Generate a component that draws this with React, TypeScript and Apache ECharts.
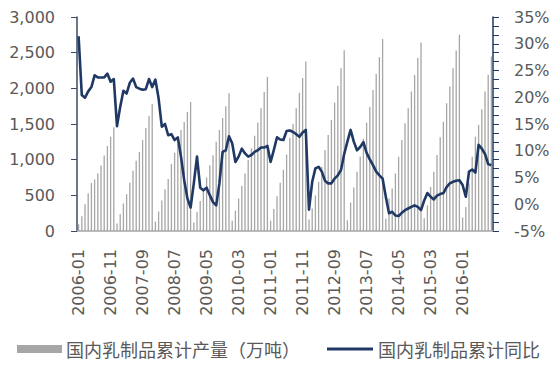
import React, { useEffect, useRef } from "react";
import * as echarts from "echarts";

// Month categories 2006-01 .. 2016-10
const years = [2006, 2007, 2008, 2009, 2010, 2011, 2012, 2013, 2014, 2015, 2016];
const monthsIn2016 = 10;

// 国内乳制品累计产量（万吨） by year (Jan..Dec)
const prod2006 = [94, 207, 375, 526, 675, 723, 807, 919, 1060, 1191, 1322, 1454];
const prod2007 = [104, 235, 385, 516, 675, 844, 984, 1107, 1275, 1444, 1613, 1781];
const prod2008 = [132, 273, 427, 584, 728, 938, 1097, 1238, 1416, 1528, 1669, 1810];
const prod2009 = [120, 265, 420, 590, 750, 920, 1062, 1250, 1416, 1585, 1750, 1930];
const prod2010 = [145, 285, 455, 630, 807, 1000, 1160, 1335, 1520, 1720, 1950, 2159];
const prod2011 = [145, 310, 488, 675, 858, 1073, 1303, 1500, 1721, 1937, 2145, 2376];
const prod2012 = [160, 315, 497, 689, 900, 1134, 1346, 1557, 1800, 2035, 2283, 2535];
const prod2013 = [150, 400, 610, 830, 1045, 1294, 1519, 1740, 1978, 2203, 2436, 2691];
const prod2014 = [170, 455, 596, 807, 1041, 1275, 1510, 1721, 1955, 2189, 2424, 2643];
const prod2015 = [180, 361, 619, 830, 1064, 1313, 1533, 1791, 2025, 2283, 2531, 2752];
const prod2016 = [190, 338, 666, 1041, 1322, 1486, 1707, 1955, 2189, 2447];

// 国内乳制品累计同比 (%)
const yoy2006 = [31.4, 20.4, 19.9, 21.1, 21.9, 24.1, 23.7, 23.7, 23.7, 24.4, 22.9, 23.4];
const yoy2007 = [14.6, 18.2, 21.2, 20.7, 22.7, 23.5, 21.9, 21.6, 21.4, 21.5, 23.4, 21.9];
const yoy2008 = [23.3, 19.8, 14.5, 15.0, 12.9, 13.1, 12.0, 12.5, 8.9, 4.5, 1.1, -0.6];
const yoy2009 = [3.9, 8.9, 3.1, 2.6, 3.1, 1.7, 0.4, -0.2, 3.9, 9.8, 10.1, 12.7];
const yoy2010 = [11.4, 7.9, 8.9, 10.4, 9.5, 8.9, 9.2, 9.8, 10.1, 10.6, 10.6, 10.9];
const yoy2011 = [7.9, 10.1, 12.5, 12.1, 12.0, 13.7, 13.8, 13.5, 13.1, 12.6, 13.4, 13.9];
const yoy2012 = [-1.0, 4.2, 6.7, 7.0, 6.1, 4.4, 3.9, 3.9, 4.8, 5.4, 6.4, 9.4];
const yoy2013 = [11.7, 13.9, 11.7, 10.1, 10.7, 11.6, 9.6, 8.4, 7.3, 6.1, 5.4, 4.8];
const yoy2014 = [1.4, -1.7, -1.4, -2.1, -2.2, -1.6, -1.1, -0.8, -0.5, -0.2, -0.5, -1.1];
const yoy2015 = [0.7, 2.1, 1.4, 0.9, 1.6, 1.9, 2.1, 3.2, 3.9, 4.2, 4.4, 4.5];
const yoy2016 = [3.6, 1.4, 6.1, 6.5, 5.9, 11.1, 10.4, 9.4, 7.5, 7.3];

const leftTicks = { min: 0, max: 3000, interval: 500 };
const rightTicks = { min: -5, max: 35, interval: 5 };

const barName = "国内乳制品累计产量（万吨）";
const lineName = "国内乳制品累计同比";

const categories: string[] = [];
years.forEach((y) => {
  const n = y === 2016 ? monthsIn2016 : 12;
  for (let m = 1; m <= n; m++) categories.push(`${y}-${m < 10 ? "0" + m : m}`);
});

const production = [
  ...prod2006, ...prod2007, ...prod2008, ...prod2009, ...prod2010, ...prod2011,
  ...prod2012, ...prod2013, ...prod2014, ...prod2015, ...prod2016,
];
const yoy = [
  ...yoy2006, ...yoy2007, ...yoy2008, ...yoy2009, ...yoy2010, ...yoy2011,
  ...yoy2012, ...yoy2013, ...yoy2014, ...yoy2015, ...yoy2016,
];

const TEXT = "#595959";
const FONT = "DejaVu Sans";
const CJK = "Noto Sans CJK SC";
const BAR = "#A6A6A6";
const LINE = "#1F3864";

export default function App() {
  const ref = useRef<HTMLDivElement>(null);
  useEffect(() => {
    if (!ref.current) return;
    const chart = echarts.init(ref.current, undefined, { renderer: "svg" });
    chart.setOption({
      animation: false,
      backgroundColor: "#ffffff",
      grid: { left: 77, right: 64, top: 17, bottom: 136, containLabel: false },
      graphic: [
        { type: "rect", shape: { x: 17, y: 345, width: 45, height: 8 }, style: { fill: BAR } },
        {
          type: "text",
          x: 66,
          y: 349,
          style: { text: barName, fill: TEXT, font: `18px "${CJK}"`, verticalAlign: "middle" },
        },
        {
          type: "line",
          shape: { x1: 327, y1: 349, x2: 373, y2: 349 },
          style: { stroke: LINE, lineWidth: 3 },
        },
        {
          type: "text",
          x: 378,
          y: 349,
          style: { text: lineName, fill: TEXT, font: `18px "${CJK}"`, verticalAlign: "middle" },
        },
      ],
      xAxis: {
        type: "category",
        data: categories,
        boundaryGap: true,
        axisLine: { lineStyle: { color: "#A6A6A6", width: 1.5 } },
        axisTick: { interval: 9, length: 6, lineStyle: { color: "#7F7F7F", width: 1.5 } },
        axisLabel: {
          interval: 9,
          rotate: 90,
          margin: 18,
          color: TEXT,
          fontSize: 16,
          fontFamily: FONT,
        },
        splitLine: { show: false },
      },
      yAxis: [
        {
          type: "value",
          min: leftTicks.min,
          max: leftTicks.max,
          interval: leftTicks.interval,
          axisLine: { show: true, lineStyle: { color: "#3B4A66", width: 1.5 } },
          axisTick: { show: true, length: 6, lineStyle: { color: "#3B4A66" } },
          axisLabel: {
            margin: 22,
            color: TEXT,
            fontSize: 16,
            fontFamily: FONT,
            formatter: (v: number) => v.toLocaleString("en-US"),
          },
          splitLine: { show: false },
        },
        {
          type: "value",
          min: rightTicks.min,
          max: rightTicks.max,
          interval: rightTicks.interval,
          axisLine: { show: true, lineStyle: { color: LINE, width: 1.5 } },
          axisTick: { show: true, length: 6, lineStyle: { color: LINE } },
          minorTick: { show: true, splitNumber: 3, length: 6, lineStyle: { color: LINE } },
          axisLabel: {
            margin: 21,
            color: TEXT,
            fontSize: 16,
            fontFamily: FONT,
            formatter: "{value}%",
          },
          splitLine: { show: false },
        },
      ],
      series: [
        {
          name: barName,
          type: "bar",
          yAxisIndex: 0,
          data: production,
          barWidth: 1.3,
          itemStyle: { color: BAR },
        },
        {
          name: lineName,
          type: "line",
          yAxisIndex: 1,
          data: yoy,
          symbol: "none",
          lineStyle: { color: LINE, width: 2.6, join: "round" },
          itemStyle: { color: LINE },
        },
      ],
    });
    return () => chart.dispose();
  }, []);
  return (
    <div
      ref={ref}
      style={{ position: "absolute", left: 0, top: 0, width: 557, height: 367 }}
    />
  );
}
